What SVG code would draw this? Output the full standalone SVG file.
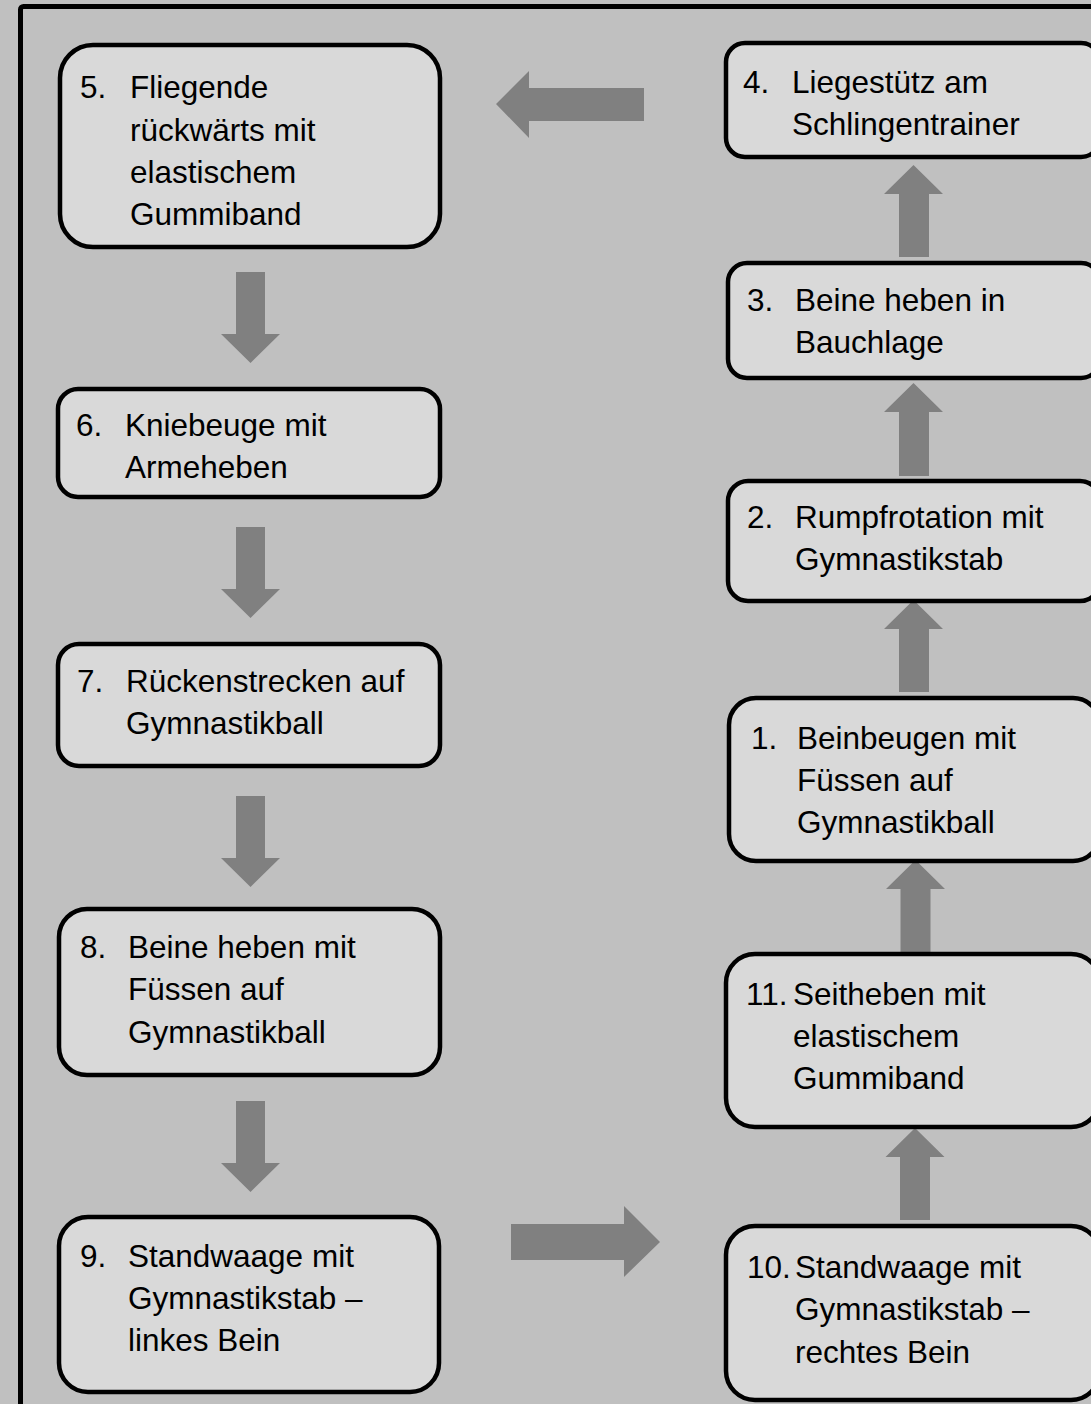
<svg xmlns="http://www.w3.org/2000/svg" width="1091" height="1404" viewBox="0 0 1091 1404">
<style>
.box{fill:#d9d9d9;stroke:#000;stroke-width:4.5}
.t{font-family:"Liberation Sans",Arial,sans-serif;font-size:31.5px;fill:#000}
.ar{fill:#808080}
</style>
<rect x="0" y="0" width="1091" height="1404" fill="#c0c0c0"/>
<rect x="20.5" y="6.5" width="1100" height="1420" rx="3" fill="none" stroke="#000" stroke-width="5"/>
<g id="connectors">
<polygon class="ar" points="496,104 529,71 529,88 644,88 644,121 529,121 529,138"/>
<polygon class="ar" points="511,1224 624,1224 624,1206 660,1242 624,1277 624,1260 511,1260"/>
<polygon class="ar" points="236,272 265,272 265,334 280,334 250.5,363 221,334 236,334"/>
<polygon class="ar" points="236,527 265,527 265,589 280,589 250.5,618 221,589 236,589"/>
<polygon class="ar" points="236,796 265,796 265,858 280,858 250.5,887 221,858 236,858"/>
<polygon class="ar" points="236,1101 265,1101 265,1163 280,1163 250.5,1192 221,1163 236,1163"/>
<polygon class="ar" points="913.5,165 943,194 929,194 929,257 899,257 899,194 884,194"/>
<polygon class="ar" points="913.5,383 943,412 929,412 929,476 899,476 899,412 884,412"/>
<polygon class="ar" points="913.5,600 943,629 929,629 929,692 899,692 899,629 884,629"/>
<polygon class="ar" points="915.5,860 945,889 930.5,889 930.5,952 900.5,952 900.5,889 886,889"/>
<polygon class="ar" points="915,1128 944.5,1157 930,1157 930,1220 900,1220 900,1157 885.5,1157"/>
</g>
<g id="node5">
<rect class="box" x="60" y="45" width="380" height="202" rx="33"/>
<text class="t" x="80" y="98">5.</text>
<text class="t" x="130" y="98">Fliegende</text>
<text class="t" x="130" y="141">rückwärts mit</text>
<text class="t" x="130" y="183">elastischem</text>
<text class="t" x="130" y="225">Gummiband</text>
</g>
<g id="node6">
<rect class="box" x="58" y="389" width="382" height="108" rx="20"/>
<text class="t" x="76" y="436">6.</text>
<text class="t" x="125" y="436">Kniebeuge mit</text>
<text class="t" x="125" y="478">Armeheben</text>
</g>
<g id="node7">
<rect class="box" x="58" y="644" width="382" height="122" rx="21"/>
<text class="t" x="77" y="692">7.</text>
<text class="t" x="126" y="692">Rückenstrecken auf</text>
<text class="t" x="126" y="734">Gymnastikball</text>
</g>
<g id="node8">
<rect class="box" x="59" y="909" width="381" height="166" rx="28"/>
<text class="t" x="80" y="958">8.</text>
<text class="t" x="128" y="958">Beine heben mit</text>
<text class="t" x="128" y="1000">Füssen auf</text>
<text class="t" x="128" y="1043">Gymnastikball</text>
</g>
<g id="node9">
<rect class="box" x="59" y="1217" width="380" height="175" rx="29"/>
<text class="t" x="80" y="1267">9.</text>
<text class="t" x="128" y="1267">Standwaage mit</text>
<text class="t" x="128" y="1309">Gymnastikstab –</text>
<text class="t" x="128" y="1351">linkes Bein</text>
</g>
<g id="node4">
<rect class="box" x="726" y="43" width="374" height="114" rx="19"/>
<text class="t" x="743" y="93">4.</text>
<text class="t" x="792" y="93">Liegestütz am</text>
<text class="t" x="792" y="135">Schlingentrainer</text>
</g>
<g id="node3">
<rect class="box" x="728" y="263" width="372" height="115" rx="19"/>
<text class="t" x="747" y="311">3.</text>
<text class="t" x="795" y="311">Beine heben in</text>
<text class="t" x="795" y="353">Bauchlage</text>
</g>
<g id="node2">
<rect class="box" x="728" y="481" width="372" height="120" rx="20"/>
<text class="t" x="747" y="528">2.</text>
<text class="t" x="795" y="528">Rumpfrotation mit</text>
<text class="t" x="795" y="570">Gymnastikstab</text>
</g>
<g id="node1">
<rect class="box" x="729" y="698" width="371" height="163" rx="27"/>
<text class="t" x="751" y="749">1.</text>
<text class="t" x="797" y="749">Beinbeugen mit</text>
<text class="t" x="797" y="791">Füssen auf</text>
<text class="t" x="797" y="833">Gymnastikball</text>
</g>
<g id="node11">
<rect class="box" x="726" y="954" width="374" height="173" rx="29"/>
<text class="t" x="746" y="1005">11.</text>
<text class="t" x="793" y="1005">Seitheben mit</text>
<text class="t" x="793" y="1047">elastischem</text>
<text class="t" x="793" y="1089">Gummiband</text>
</g>
<g id="node10">
<rect class="box" x="726" y="1226" width="374" height="174" rx="29"/>
<text class="t" x="747" y="1278">10.</text>
<text class="t" x="795" y="1278">Standwaage mit</text>
<text class="t" x="795" y="1320">Gymnastikstab –</text>
<text class="t" x="795" y="1363">rechtes Bein</text>
</g>
</svg>
